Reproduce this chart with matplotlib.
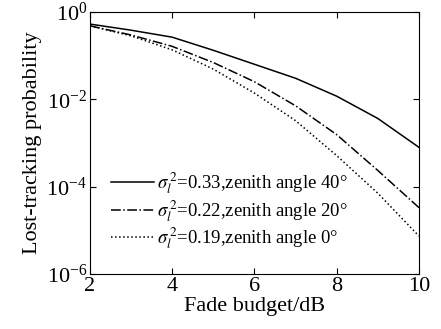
import numpy as np
import matplotlib.pyplot as plt

plt.rcParams.update({
    "font.family": "Liberation Serif",
    "mathtext.fontset": "stix",
    "font.size": 16,
    "xtick.direction": "in",
    "ytick.direction": "in",
    "xtick.top": True,
    "ytick.right": True,
})

fade_db = [2, 3, 4, 5, 6, 7, 8, 9, 10]
# log10 of lost-tracking probability
log_p_40 = [-0.28, -0.42, -0.58, -0.88, -1.20, -1.52, -1.93, -2.44, -3.10]
log_p_20 = [-0.32, -0.53, -0.79, -1.16, -1.60, -2.15, -2.81, -3.63, -4.48]
log_p_0 = [-0.32, -0.55, -0.87, -1.31, -1.86, -2.49, -3.29, -4.15, -5.13]

labels = [
    r"$\sigma_l^{\,2}$=0.33,zenith angle 40°",
    r"$\sigma_l^{\,2}$=0.22,zenith angle 20°",
    r"$\sigma_l^{\,2}$=0.19,zenith angle 0°",
]

fig = plt.figure(figsize=(4.41, 3.29), dpi=100)
ax = fig.add_axes([0.204, 0.167, 0.746, 0.797])

ax.semilogy(fade_db, 10.0 ** np.array(log_p_40), "k-", lw=1.1, label=labels[0])
ax.semilogy(fade_db, 10.0 ** np.array(log_p_20), "k-.", lw=1.1, label=labels[1])
ax.semilogy(fade_db, 10.0 ** np.array(log_p_0), "k:", lw=1.1, label=labels[2])

ax.set_xlim(2, 10)
ax.set_ylim(1e-6, 1)
ax.set_xticks([2, 4, 6, 8, 10])
ax.set_yticks([1e-6, 1e-4, 1e-2, 1])
ax.minorticks_off()
ax.tick_params(length=4, width=0.8, pad=2)

ax.set_xlabel("Fade budget/dB", labelpad=1)
ax.set_ylabel("Lost-tracking probability", labelpad=3)

ax.legend(loc="lower left", bbox_to_anchor=(0.04, 0.058), frameon=False,
          fontsize=13.5, handlelength=2.3, handletextpad=0.15,
          labelspacing=0.08, borderaxespad=0)

fig.savefig("out.png", dpi=100)
